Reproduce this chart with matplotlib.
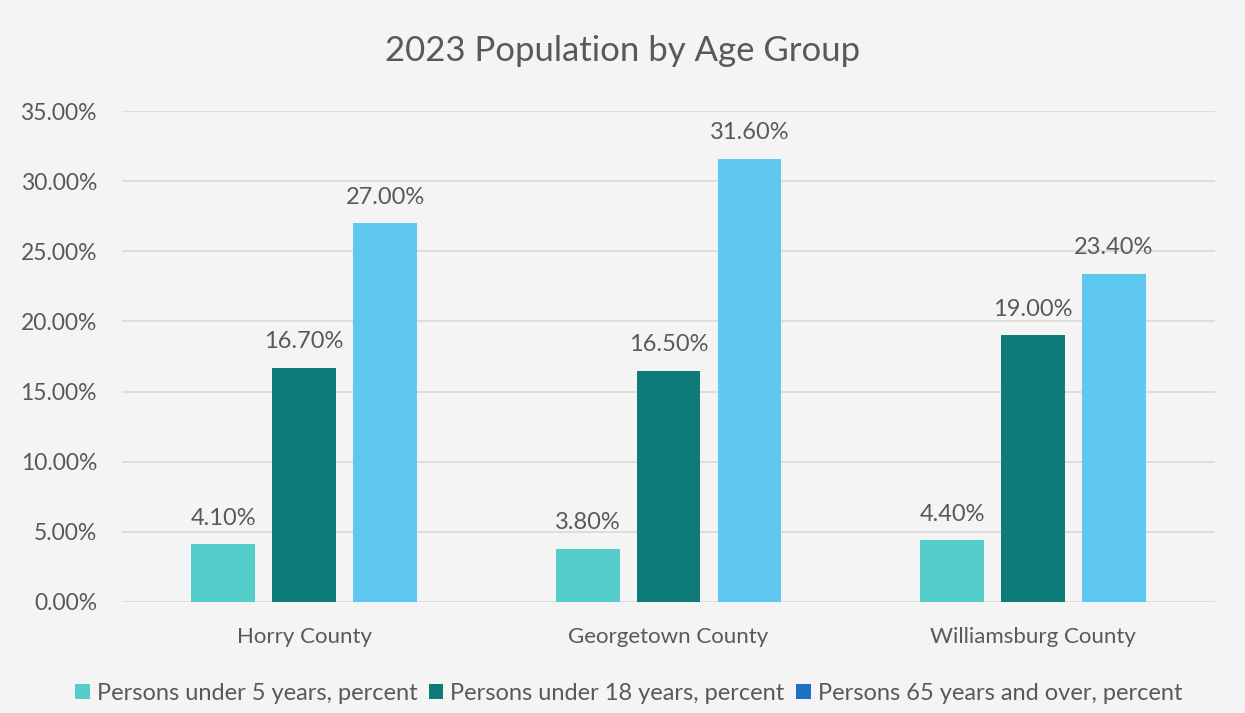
import matplotlib.pyplot as plt
import numpy as np
from matplotlib.patches import Patch
from matplotlib.ticker import FuncFormatter

plt.rcParams['font.family'] = ['Lato', 'DejaVu Sans']

categories = ["Horry County", "Georgetown County", "Williamsburg County"]
series_names = ["Persons under 5 years, percent",
                "Persons under 18 years, percent",
                "Persons 65 years and over, percent"]
under5 = [4.1, 3.8, 4.4]
under18 = [16.7, 16.5, 19.0]
over65 = [27.0, 31.6, 23.4]
yticks = [0, 5, 10, 15, 20, 25, 30, 35]

bar_colors = ["#55CDCA", "#0E7B79", "#5EC8F0"]
legend_colors = ["#55CDCA", "#0E7B79", "#1F6FC5"]
bg = "#F4F4F4"
text_color = "#595959"

fig = plt.figure(figsize=(12.45, 7.13), dpi=100, facecolor=bg)
ax = fig.add_axes([0.098, 0.1557, 0.878, 0.6886], facecolor=bg)

x = np.arange(len(categories))
width = 0.175
offset = 0.222
for i, vals in enumerate([under5, under18, over65]):
    pos = x + (i - 1) * offset
    bars = ax.bar(pos, vals, width=width, color=bar_colors[i], zorder=3)
    for b, v in zip(bars, vals):
        ax.text(b.get_x() + b.get_width() / 2, v + 1.85, f"{v:.2f}%",
                ha='center', va='center', fontsize=17, color=text_color)

ax.set_xlim(-0.5, 2.5)
ax.set_ylim(0, 35)
ax.set_yticks(yticks)
ax.yaxis.set_major_formatter(FuncFormatter(lambda v, p: f"{v:.2f}%"))
ax.set_xticks(x)
ax.set_xticklabels(categories)
ax.grid(axis='y', color='#D9D9D9', linewidth=1.2, zorder=0)
for s in ax.spines.values():
    s.set_visible(False)
ax.tick_params(axis='both', length=0, labelcolor=text_color)
ax.tick_params(axis='y', pad=18, labelsize=16.5)
ax.tick_params(axis='x', pad=18, labelsize=16)

fig.text(0.5, 0.928, "2023 Population by Age Group", ha='center', va='center',
         fontsize=25, color=text_color)

handles = [Patch(facecolor=c, label=n) for c, n in zip(legend_colors, series_names)]
fig.legend(handles=handles, loc='center', bbox_to_anchor=(0.505, 0.027), ncol=3,
           frameon=False, fontsize=17, labelcolor=text_color,
           handlelength=0.6, handleheight=0.6, handletextpad=0.3, columnspacing=0.5)

fig.savefig("out.png", dpi=100, facecolor=bg)
